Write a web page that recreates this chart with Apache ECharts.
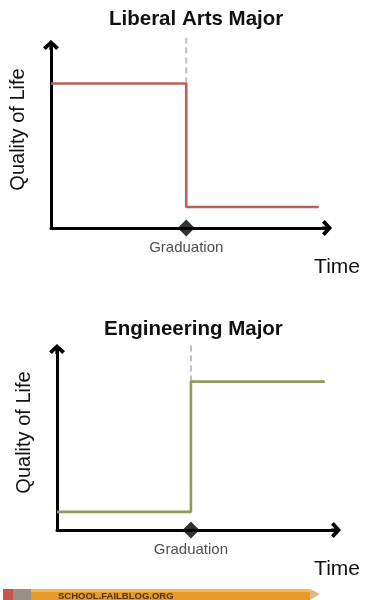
<!DOCTYPE html>
<html>
<head>
<meta charset="utf-8">
<script src="https://cdn.jsdelivr.net/npm/echarts@6/dist/echarts.min.js"></script>
<style>
html,body{margin:0;padding:0;background:#fff;}
#chart{width:371px;height:600px;}
</style>
</head>
<body>
<div id="chart"></div>
<script>
// ---- Data ----
var titles = ['Liberal Arts Major', 'Engineering Major'];
var xAxisName = 'Time';
var yAxisName = 'Quality of Life';
var eventLabel = 'Graduation';
var graduationX = [49, 48];           // graduation time for each chart
// Liberal arts: quality of life over time (step)
var libX = [0, 49, 49, 97];
var libY = [79, 79, 11.5, 11.5];
// Engineering: quality of life over time (step)
var engX = [0, 48, 48, 96];
var engY = [10, 10, 82, 82];
// dashed guide tops / bottoms
var dashTopY = [104, 104];
var dashBottomY = [79, 82];

function pairs(xs, ys) { return xs.map(function (x, i) { return [x, ys[i]]; }); }

var arrowPath = 'path://M0,0 L10,9 L6.5,12.5 L2,8 L2,12.5 L-2,12.5 L-2,8 L-6.5,12.5 L-10,9 Z';
var FONT = '"Liberation Sans", Arial, sans-serif';

var grids = [
  {left: 49, top: 45, width: 278, height: 183},
  {left: 57, top: 349, width: 279, height: 181}
];
var timeGap = [33, 24];

function makeXAxis(i) {
  return {
    type: 'value', gridIndex: i, min: 0, max: 100,
    axisLine: {show: true, onZero: false, lineStyle: {color: '#000', width: 3},
      symbol: ['none', arrowPath], symbolSize: [16, 13]},
    axisTick: {show: false}, axisLabel: {show: false}, splitLine: {show: false},
    name: xAxisName, nameLocation: 'end', nameGap: timeGap[i],
    nameTextStyle: {fontFamily: FONT, fontSize: 21, color: '#111', align: 'right', verticalAlign: 'top', padding: [29, 0, 0, 0]}
  };
}
function makeYAxis(i) {
  return {
    type: 'value', gridIndex: i, min: 0, max: 100,
    axisLine: {show: true, onZero: false, lineStyle: {color: '#000', width: 3},
      symbol: ['none', arrowPath], symbolSize: [16, 13]},
    axisTick: {show: false}, axisLabel: {show: false}, splitLine: {show: false},
    name: yAxisName, nameLocation: 'middle', nameRotate: 90, nameGap: 23,
    nameTextStyle: {fontFamily: FONT, fontSize: 20, color: '#111', padding: [0, 0, 0, 14]}
  };
}

function seriesFor(i, xs, ys, color) {
  return [
    {type: 'line', xAxisIndex: i, yAxisIndex: i, clip: false, silent: true, z: 2,
      data: [[graduationX[i], dashBottomY[i]], [graduationX[i], dashTopY[i]]],
      showSymbol: false, lineStyle: {color: '#bdbdbd', width: 2, type: [6, 4]}},
    {type: 'line', xAxisIndex: i, yAxisIndex: i, clip: false, silent: true, z: 3,
      data: pairs(xs, ys), showSymbol: false,
      lineStyle: {color: color, width: 2.6}},
    {type: 'scatter', xAxisIndex: i, yAxisIndex: i, clip: false, silent: true, z: 5,
      data: [[graduationX[i], 0]], symbol: 'diamond', symbolSize: 17,
      itemStyle: {color: '#000'},
      label: {show: true, position: 'bottom', distance: 4, formatter: eventLabel,
        fontFamily: FONT, fontSize: 15, color: '#222'}}
  ];
}

var chart = echarts.init(document.getElementById('chart'), null, {renderer: 'canvas'});
chart.setOption({
  backgroundColor: '#fff',
  animation: false,
  title: [
    {text: titles[0], left: 104, top: 4, textStyle: {fontFamily: FONT, fontWeight: 'bold', fontSize: 20.5, color: '#111'}},
    {text: titles[1], left: 99, top: 314, textStyle: {fontFamily: FONT, fontWeight: 'bold', fontSize: 20.5, color: '#111'}}
  ],
  grid: grids,
  xAxis: [makeXAxis(0), makeXAxis(1)],
  yAxis: [makeYAxis(0), makeYAxis(1)],
  series: [].concat(seriesFor(0, libX, libY, '#b3625c'), seriesFor(1, engX, engY, '#8d9c5c')),
  graphic: [
    {type: 'rect', shape: {x: 30, y: 589, width: 280, height: 11}, style: {fill: '#e59a2a'}, silent: true},
    {type: 'rect', shape: {x: 30, y: 589, width: 280, height: 3}, style: {fill: '#f2b95a'}, silent: true},
    {type: 'rect', shape: {x: 3, y: 589, width: 10, height: 11}, style: {fill: '#c9554a'}, silent: true},
    {type: 'rect', shape: {x: 13, y: 589, width: 18, height: 11}, style: {fill: '#9a8f86'}, silent: true},
    {type: 'polygon', shape: {points: [[310, 589], [320, 594], [310, 600]]}, style: {fill: '#d9b98a'}, silent: true},
    {type: 'text', x: 58, y: 596, style: {text: 'SCHOOL.FAILBLOG.ORG', fontFamily: FONT, fontWeight: 'bold', fontSize: 9.5, fill: '#4a3512', verticalAlign: 'middle'}, silent: true}
  ]
});
</script>
</body>
</html>
